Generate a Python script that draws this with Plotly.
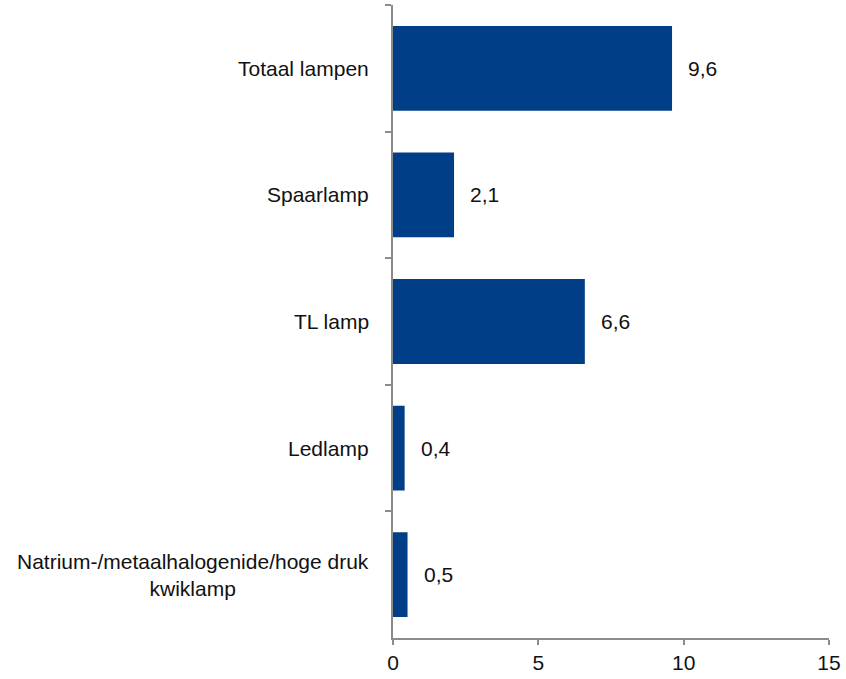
import plotly.graph_objects as go

categories = ["Totaal lampen", "Spaarlamp", "TL lamp", "Ledlamp",
              "Natrium-/metaalhalogenide/hoge druk<br>kwiklamp"]
values = [9.6, 2.1, 6.6, 0.4, 0.5]
x_ticks = [0, 5, 10, 15]

FONT = "Liberation Sans, Arial, sans-serif"
BAR = "#003F87"
AXIS = "#8C8C8C"

fig = go.Figure(go.Bar(
    x=values, y=categories, orientation="h",
    marker=dict(color=BAR, line=dict(width=0)),
    width=0.67, hoverinfo="skip",
))

anns = []
for c, v in zip(categories, values):
    anns.append(dict(x=0, xref="paper", y=c, yref="y", text=c,
                     xanchor="right", yanchor="middle", align="center",
                     xshift=-22, showarrow=False,
                     font=dict(family=FONT, size=21, color="#111")))
    anns.append(dict(x=v, xref="x", y=c, yref="y",
                     text=f"{v:.1f}".replace(".", ","),
                     xanchor="left", yanchor="middle", xshift=14,
                     showarrow=False,
                     font=dict(family=FONT, size=21, color="#111")))

fig.update_layout(
    width=846, height=679,
    margin=dict(l=393, r=14, t=5, b=34),
    paper_bgcolor="white", plot_bgcolor="white",
    showlegend=False,
    annotations=anns,
    xaxis=dict(range=[0, 15], tickvals=x_ticks, ticktext=[str(t) for t in x_ticks],
               showgrid=False, zeroline=False,
               showline=True, linecolor=AXIS, linewidth=1.5,
               ticks="outside", ticklen=5, tickcolor=AXIS, tickwidth=1.5,
               tickfont=dict(family=FONT, size=21, color="#111")),
    yaxis=dict(type="category", categoryorder="array", categoryarray=categories,
               autorange="reversed", showticklabels=False,
               showgrid=False, zeroline=False,
               showline=True, linecolor=AXIS, linewidth=1.5,
               ticks="outside", ticklen=6, tickcolor=AXIS, tickwidth=1.5,
               tickson="boundaries"),
)

fig.write_html("out.html", config={"displayModeBar": False},
               post_script="document.body.style.margin='0';document.body.style.overflow='hidden';")
